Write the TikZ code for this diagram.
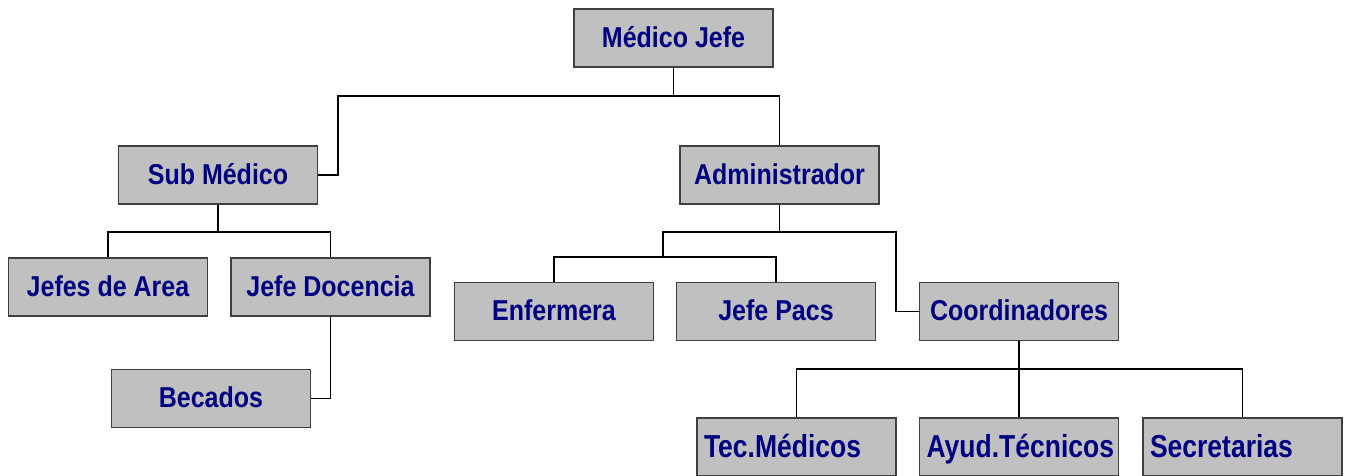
\documentclass[tikz,border=0pt]{standalone}
\usepackage{fontspec}
\setmainfont{Liberation Sans}
\definecolor{boxgray}{HTML}{C0C0C0}
\definecolor{boxline}{HTML}{404040}
\definecolor{labelnavy}{HTML}{000080}
% lettering stretched vertically, as in the chart's boxes
\newcommand{\tallword}[2][1.15]{\scalebox{1}[#1]{#2}}
\begin{document}
\begin{tikzpicture}[x=1pt,y=-1pt,
  orgbox/.style={draw=boxline, fill=boxgray, line width=1.3pt,
    minimum width=199pt, minimum height=58pt, inner sep=0pt,
    text height=21pt, text depth=3pt,
    text=labelnavy, font=\fontsize{25}{30}\selectfont\bfseries},
  leftbox/.style={orgbox, font=\fontsize{26.5}{30}\selectfont\bfseries,
    text width=185pt, align=left, inner xsep=7pt,
    text height=24pt, text depth=4pt},
  link/.style={draw=black, line width=1.6pt}]
\useasboundingbox (0,0) rectangle (1346,475);

% top level
\node[orgbox] (jefe) at (673.5,38) {\tallword{Médico Jefe}};
% second level
\node[orgbox] (sub) at (218,175) {\tallword{Sub Médico}};
\node[orgbox] (adm) at (779.5,175) {\tallword{Administrador}};
% under Sub Médico
\node[orgbox] (area) at (108,287) {\tallword{Jefes de Area}};
\node[orgbox] (doc) at (330.5,287) {\tallword{Jefe Docencia}};
\node[orgbox] (bec) at (211,398.5) {\tallword{Becados}};
% under Administrador
\node[orgbox] (enf) at (554,311.5) {\tallword{Enfermera}};
\node[orgbox] (pacs) at (776,311.5) {\tallword{Jefe Pacs}};
\node[orgbox] (coord) at (1019,311.5) {\tallword{Coordinadores}};
% under Coordinadores
\node[leftbox] (tec) at (796.5,447) {\tallword[1.2]{Tec.Médicos}};
\node[leftbox] (ayud) at (1019,447) {\tallword[1.2]{Ayud.Técnicos}};
\node[leftbox] (sec) at (1242.5,447) {\tallword[1.2]{Secretarias}};

% junction points
\coordinate (j1) at (673.5,96);
\coordinate (s1) at (218,232);
\coordinate (a1) at (779.5,232);
\coordinate (a2) at (663,257);
\coordinate (c1) at (1019,369);

% connectors
\draw[link] (jefe.south) -- (j1);
\draw[link] (sub.east) -- ++(20,0) |- (j1) -| (adm.north);
\draw[link] (sub.south) -- (s1);
\draw[link] (area.north) |- (s1) -| (doc.north);
\draw[link] (doc.south) |- (bec.east);
\draw[link] (adm.south) -- (a1);
\draw[link] (coord.west) -- ++(-23,0) |- (a1) -| (a2);
\draw[link] (enf.north) |- (a2) -| (pacs.north);
\draw[link] (coord.south) -- (ayud.north);
\draw[link] (tec.north) |- (c1) -| (sec.north);
\end{tikzpicture}
\end{document}
